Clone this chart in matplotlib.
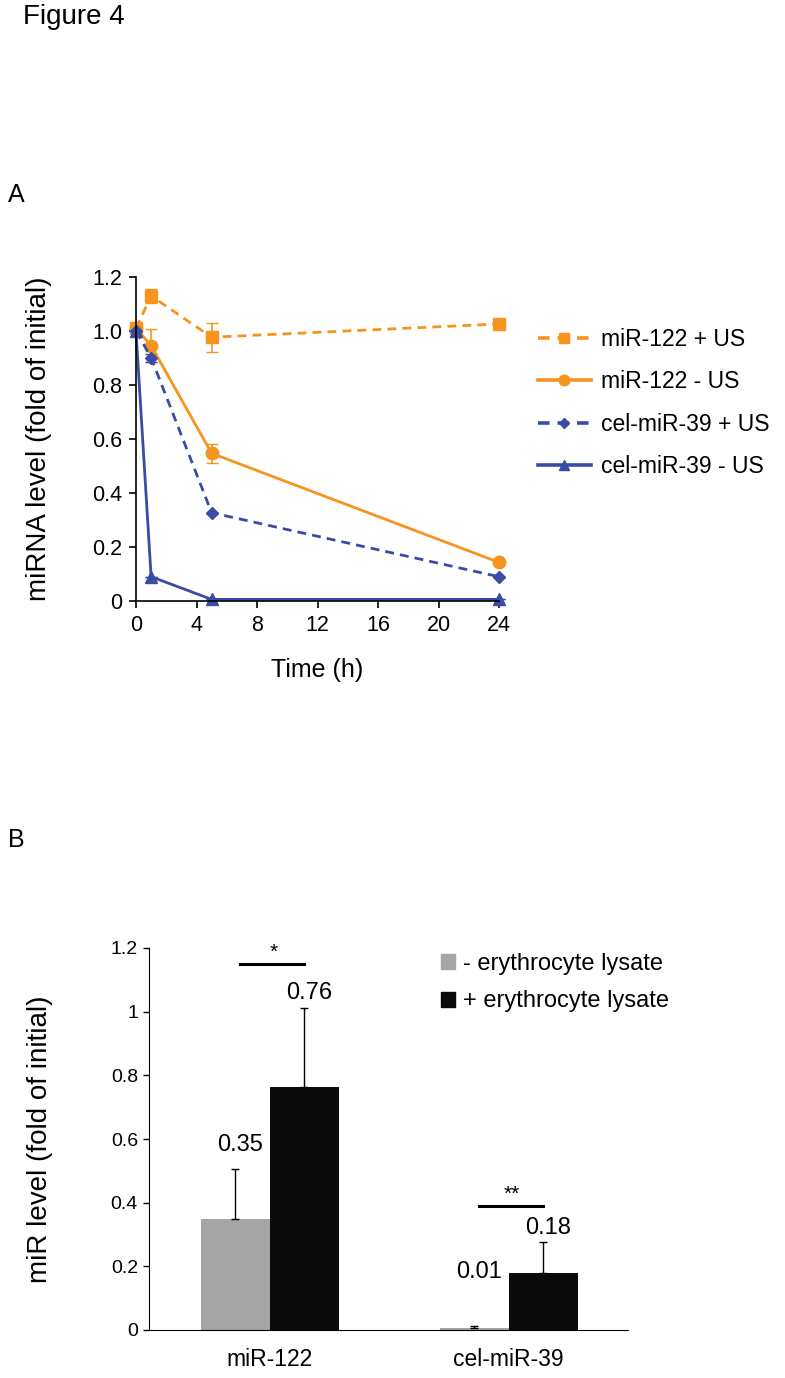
import matplotlib.pyplot as plt
from matplotlib.patches import Patch
from matplotlib.lines import Line2D

plt.rcParams['font.family'] = ['Liberation Sans', 'DejaVu Sans']

# panel A: miRNA stability over time
time_h = [0, 1, 5, 24]
mir122_plus = [1.01, 1.13, 0.977, 1.026]
mir122_plus_err = [0.02, 0.025, 0.054, 0.0]
mir122_minus = [1.01, 0.946, 0.547, 0.143]
mir122_minus_err = [0.0, 0.06, 0.036, 0.0]
cel39_plus = [1.0, 0.901, 0.327, 0.09]
cel39_plus_err = [0.0, 0.015, 0.0, 0.0]
cel39_minus = [1.0, 0.09, 0.006, 0.006]
cel39_minus_err = [0.0, 0.0, 0.0, 0.0]

# panel B: erythrocyte lysate
groups = ['miR-122', 'cel-miR-39']
minus_lysate = [0.35, 0.006]
minus_lysate_err = [0.155, 0.005]
plus_lysate = [0.763, 0.178]
plus_lysate_err = [0.249, 0.098]
minus_text = ['0.35', '0.01']
plus_text = ['0.76', '0.18']
minus_text_y = [0.58, 0.183]
plus_text_y = [1.06, 0.319]
sig_marks = ['*', '**']
sig_y = [1.149, 0.389]

orange = '#F7941D'
blue = '#3A4BA3'

fig = plt.figure(figsize=(7.85, 13.78), dpi=100)
W, H = 785, 1378

fig.text(23 / W, 1 - 17.5 / H, 'Figure 4', fontsize=20, va='center')
fig.text(8 / W, 1 - 195 / H, 'A', fontsize=18, va='center')
fig.text(8 / W, 1 - 840 / H, 'B', fontsize=18, va='center')

# ---- A ----
axA = fig.add_axes([136 / W, 1 - 601 / H, 363 / W, 324 / H])
dash = (0, (3.2, 2.2))
series = [
    (mir122_plus, mir122_plus_err, orange, 's', dash, 'miR-122 + US', 8.5),
    (mir122_minus, mir122_minus_err, orange, 'o', '-', 'miR-122 - US', 9),
    (cel39_plus, cel39_plus_err, blue, 'D', dash, 'cel-miR-39 + US', 6.5),
    (cel39_minus, cel39_minus_err, blue, '^', '-', 'cel-miR-39 - US', 9),
]
leg_lines = []
for vals, err, col, mk, ls, lab, ms in series:
    axA.errorbar(time_h, vals, yerr=err, color=col, ecolor=col, marker=mk, ms=ms,
                 linestyle=ls, lw=2, elinewidth=1.2, capsize=4, clip_on=False)
    leg_lines.append(Line2D([], [], color=col, marker=mk, ms=ms * 0.85, linestyle=ls,
                            lw=2.6, label=lab))

axA.set_xlim(0, 24)
axA.set_ylim(0, 1.2)
axA.set_xticks([0, 4, 8, 12, 16, 20, 24])
axA.set_yticks([0, 0.2, 0.4, 0.6, 0.8, 1.0, 1.2])
axA.set_yticklabels(['0', '0.2', '0.4', '0.6', '0.8', '1.0', '1.2'])
axA.spines['top'].set_visible(False)
axA.spines['right'].set_visible(False)
for s in ['left', 'bottom']:
    axA.spines[s].set_linewidth(1.2)
axA.tick_params(direction='out', length=5, width=1.2, labelsize=15.5, pad=5)
axA.set_xlabel('Time (h)', fontsize=18)
axA.set_ylabel('miRNA level (fold of initial)', fontsize=20)
axA.xaxis.set_label_coords(0.5, -0.175)
axA.yaxis.set_label_coords(-0.231, 0.5)

fig.legend(handles=leg_lines, loc='upper left', bbox_to_anchor=(538 / W, 1 - 328 / H),
           frameon=False, fontsize=16.5, handlelength=2.3, handletextpad=0.45,
           labelspacing=0.85, borderpad=0, borderaxespad=0, numpoints=1)

# ---- B ----
axB = fig.add_axes([149 / W, 1 - 1330 / H, 479 / W, 382 / H])
w = 0.289
x = [0, 1]
xm = [i - w / 2 for i in x]
xp = [i + w / 2 for i in x]
axB.bar(xm, minus_lysate, w, color='#A5A5A5')
axB.bar(xp, plus_lysate, w, color='#0A0A0A')
axB.errorbar(xm, minus_lysate, yerr=[[0, 0], minus_lysate_err], fmt='none',
             ecolor='black', elinewidth=1, capsize=3)
axB.errorbar(xp, plus_lysate, yerr=[[0, 0], plus_lysate_err], fmt='none',
             ecolor='black', elinewidth=1, capsize=3)

for i in range(2):
    axB.text(xm[i] + 0.02, minus_text_y[i], minus_text[i], ha='center', va='center', fontsize=17)
    axB.text(xp[i] + 0.02, plus_text_y[i], plus_text[i], ha='center', va='center', fontsize=17)
    axB.plot([xm[i] + 0.02, xp[i]], [sig_y[i], sig_y[i]], color='black', lw=2.2)
    axB.text(x[i] + 0.015, sig_y[i] + 0.008, sig_marks[i], ha='center', va='bottom', fontsize=15)

axB.set_xlim(-0.506, 1.5)
axB.set_ylim(0, 1.2)
axB.set_xticks(x)
axB.set_xticklabels(groups)
axB.set_yticks([0, 0.2, 0.4, 0.6, 0.8, 1.0, 1.2])
axB.set_yticklabels(['0', '0.2', '0.4', '0.6', '0.8', '1', '1.2'])
axB.spines['top'].set_visible(False)
axB.spines['right'].set_visible(False)
axB.tick_params(axis='y', direction='out', length=4, width=1, labelsize=14, pad=4)
axB.tick_params(axis='x', length=0, labelsize=16.5, pad=13)
axB.set_ylabel('miR level (fold of initial)', fontsize=20)
axB.yaxis.set_label_coords(-0.2, 0.5)

leg_handles = [Patch(color='#A5A5A5'), Patch(color='#0A0A0A')]
axB.legend(leg_handles, ['- erythrocyte lysate', '+ erythrocyte lysate'],
           loc='upper left', bbox_to_anchor=(441 / W, 1 - 953 / H),
           bbox_transform=fig.transFigure, frameon=False, fontsize=17,
           handlelength=0.6, handleheight=0.6, handletextpad=0.35,
           labelspacing=0.65, borderpad=0, borderaxespad=0)

fig.savefig('out.png', dpi=100)
